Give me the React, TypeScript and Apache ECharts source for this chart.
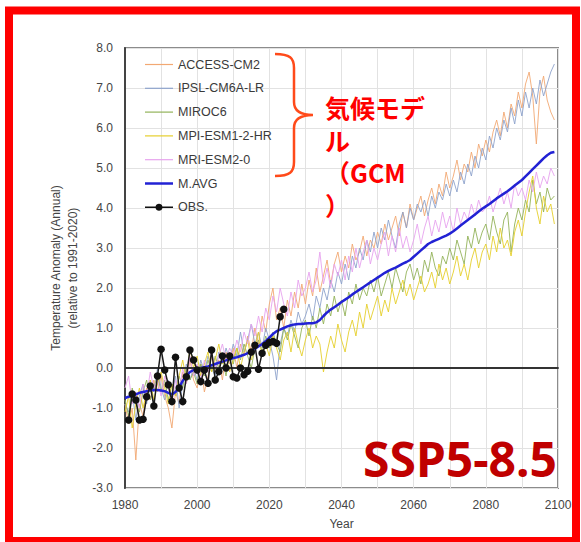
import React, { useEffect, useRef } from "react";
import * as echarts from "echarts";

const MODEL_START = 1980;
const OBS_START = 1981;

const ACCESS_CM2 = [
  -0.9, -1.4, -1.0, -2.3, -0.9, -1.2, -0.5, -0.8, -0.3, -0.6,
  -0.2, -0.7, -1.0, -1.5, -0.6, -0.9, -0.1, -0.4, 0.2, -0.3,
  -0.5, 0.1, -0.6, -0.2, 0.3, -0.1, 0.2, -0.3, 0.4, 0.1,
  0.5, 0.0, 0.6, 0.3, 0.8, 0.4, 1.0, 0.6, 1.3, 0.9,
  1.6, 2.0, 1.2, 1.5, 1.0, 1.7, 1.3, 1.9, 1.5, 2.1,
  1.6, 2.2, 1.8, 2.5, 1.9, 2.3, 2.7, 2.1, 2.6, 2.9,
  2.4, 2.8, 2.5, 3.1, 2.7, 2.9, 3.3, 2.8, 3.2, 3.0,
  3.4, 3.1, 3.6, 3.2, 3.5, 3.8, 3.3, 3.9, 3.5, 4.1,
  3.7, 4.0, 4.3, 3.8, 4.2, 4.5, 4.1, 4.6, 4.3, 4.9,
  4.5, 4.8, 5.2, 4.7, 5.1, 4.9, 5.4, 5.0, 5.6, 5.3,
  5.7, 5.4, 5.9, 6.2, 5.8, 6.4, 6.0, 6.6, 6.3, 6.9,
  6.5, 7.1, 7.4, 6.8, 5.6, 6.9, 7.3, 6.7, 6.4, 6.2,
];

const IPSL_CM6A_LR = [
  -0.9, -1.1, -0.6, -1.3, -0.7, -0.4, -0.9, -0.3, -0.6, 0.0,
  -0.5, -0.8, -0.3, -0.7, -0.2, -1.0, -0.4, 0.1, -0.3, 0.0,
  -0.3, 0.2, -0.1, 0.3, 0.0, -0.2, 0.4, 0.1, 0.5, 0.2,
  0.6, 0.3, 0.9, 0.4, 0.7, 1.1, 0.6, 0.9, 0.5, 1.0,
  0.7, 0.3, -0.3, 0.6, 1.0, 0.8, 1.2, 0.9, 1.4, 1.1,
  1.3, 1.6, 1.2, 1.8, 1.5, 2.0, 1.7, 2.2, 1.9, 2.4,
  2.1, 2.6, 2.2, 2.8, 2.5, 3.0, 2.7, 3.2, 2.9, 3.4,
  3.0, 3.5, 3.2, 3.7, 3.3, 3.0, 3.6, 3.9, 3.5, 4.0,
  3.7, 4.1, 3.9, 4.2, 3.8, 4.3, 4.0, 4.4, 4.2, 4.6,
  4.3, 4.7, 4.4, 4.9, 4.6, 5.1, 4.8, 5.3, 5.0, 5.5,
  5.2, 5.8, 5.5, 6.0, 5.7, 6.2, 5.9, 6.5, 6.1, 6.7,
  6.3, 6.9, 6.5, 7.0, 6.6, 7.2, 6.8, 7.1, 7.4, 7.6,
];

const MIROC6 = [
  -0.8, -1.2, -0.5, -0.9, -1.1, -0.6, -0.3, -0.8, -0.5, -0.2,
  -0.6, -0.3, -0.8, -0.4, -0.7, -0.2, -0.5, 0.0, -0.3, -0.1,
  -0.4, 0.1, -0.2, 0.2, -0.1, 0.3, 0.0, 0.2, -0.2, 0.4,
  0.1, 0.5, 0.2, 0.6, 0.3, 0.0, 0.5, 0.7, 0.4, 0.8,
  0.5, 0.9, 0.6, 0.4, 1.0, 0.7, 1.1, 0.8, 0.5, 1.0,
  1.2, 0.8, 1.3, 1.0, 1.5, 1.1, 1.6, 1.3, 1.8, 1.4,
  1.7, 1.3, 1.9, 1.6, 2.1, 1.7, 2.0, 1.8, 2.2, 1.9,
  2.3, 1.8, 2.1, 2.4, 2.0, 2.5, 2.2, 1.9, 2.4, 2.6,
  2.2, 2.5, 2.1, 2.7, 2.4, 2.9, 2.5, 2.3, 2.8, 2.6,
  3.0, 2.7, 3.2, 2.9, 2.6, 3.3, 3.0, 3.5, 3.1, 3.4,
  3.6, 3.2, 3.8, 3.4, 3.1, 3.7, 3.9, 2.9, 3.6, 4.0,
  3.7, 4.2, 3.9, 4.7, 4.1, 4.4, 3.9, 4.5, 4.2, 4.3,
];

const MPI_ESM1_2_HR = [
  -1.1, -0.7, -1.5, -0.9, -0.5, -1.0, -0.6, -0.3, -0.8, -0.4,
  -0.1, -0.5, -0.9, -0.4, -0.7, -0.2, 0.2, -0.3, 0.5, 0.0,
  0.3, -0.2, 0.1, 0.4, -0.1, 0.2, 0.6, 0.1, 0.3, -0.1,
  0.2, 0.5, 0.0, 0.4, 0.7, 0.2, 0.5, 0.9, 0.3, 0.6,
  0.3, 0.8, 0.5, 0.2, 0.7, 0.9, 0.4, 1.0, 0.6, 0.3,
  0.7, 1.0, 0.5, 0.8, 0.6, -0.1, 0.4, 0.8, 0.5, 1.1,
  0.7, 0.4, 0.9, 1.2, 0.8, 1.4, 1.0, 1.6, 1.2, 1.5,
  1.8, 1.3, 1.7, 1.4, 2.0, 1.6, 1.9, 2.2, 1.8, 2.1,
  1.7, 2.0, 2.3, 1.9, 2.1, 2.4, 2.0, 2.6, 2.2, 2.5,
  2.1, 2.4, 2.8, 2.3, 2.6, 2.2, 2.7, 3.0, 2.5, 2.9,
  3.1, 2.7, 3.3, 2.9, 3.5, 3.0, 3.2, 2.8, 3.4, 3.7,
  3.3, 3.9, 4.4, 4.8, 4.0, 3.6, 4.3, 3.9, 4.1, 3.6,
];

const MRI_ESM2_0 = [
  -0.5, -0.2, -0.9, -0.6, -1.0, -0.4, -0.7, -0.1, -0.5, -0.3,
  -0.7, -0.2, -0.5, -0.9, -0.3, -0.6, 0.0, -0.4, 0.3, -0.2,
  0.1, -0.3, 0.2, -0.1, 0.4, 0.0, 0.3, 0.6, 0.2, 0.5,
  0.3, 0.7, 0.4, 0.9, 0.6, 1.1, 0.8, 1.3, 0.9, 1.5,
  1.2, 1.8, 1.4, 2.0, 1.6, 1.3, 1.9, 1.5, 2.2, 1.8,
  2.0, 2.4, 1.9, 2.2, 2.9, 2.1, 2.5, 2.0, 2.6, 2.3,
  2.7, 2.2, 2.8, 2.4, 3.0, 2.5, 2.9, 3.2, 2.6, 3.0,
  2.7, 3.1, 3.4, 2.8, 3.3, 2.9, 3.5, 3.0, 3.3, 2.9,
  3.2, 3.6, 3.1, 3.5, 3.8, 3.3, 3.7, 3.4, 3.9, 3.5,
  3.8, 3.4, 4.0, 3.6, 3.9, 3.7, 4.1, 3.8, 4.2, 3.9,
  4.0, 4.3, 3.9, 4.2, 4.5, 4.1, 4.4, 4.0, 4.6, 4.3,
  4.5, 4.2, 4.7, 4.4, 4.9, 4.5, 4.8, 4.6, 5.0, 4.8,
];

const M_AVG = [
  -0.75, -0.72, -0.70, -0.66, -0.62, -0.60, -0.58, -0.56, -0.55, -0.55,
  -0.56, -0.58, -0.62, -0.66, -0.60, -0.48, -0.32, -0.20, -0.10, -0.05,
  -0.02, 0.00, 0.02, 0.04, 0.07, 0.10, 0.13, 0.16, 0.19, 0.22,
  0.25, 0.27, 0.30, 0.33, 0.37, 0.42, 0.48, 0.54, 0.60, 0.67,
  0.76, 0.85, 0.92, 0.96, 1.00, 1.04, 1.07, 1.09, 1.10, 1.10,
  1.11, 1.12, 1.12, 1.14, 1.20, 1.30, 1.39, 1.46, 1.52, 1.58,
  1.65, 1.71, 1.77, 1.84, 1.90, 1.96, 2.02, 2.08, 2.14, 2.20,
  2.26, 2.32, 2.38, 2.43, 2.47, 2.51, 2.56, 2.61, 2.65, 2.70,
  2.78, 2.86, 2.94, 3.02, 3.10, 3.15, 3.19, 3.23, 3.27, 3.31,
  3.36, 3.42, 3.49, 3.56, 3.63, 3.70, 3.77, 3.84, 3.91, 3.98,
  4.04, 4.10, 4.17, 4.24, 4.30, 4.36, 4.42, 4.49, 4.56, 4.63,
  4.70, 4.79, 4.88, 4.97, 5.06, 5.15, 5.24, 5.32, 5.38, 5.40,
];

const OBS = [
  -1.30, -0.65, -0.80, -1.30, -1.28, -0.72, -0.45, -0.95, -0.20, 0.47,
  -0.05, -0.42, -0.84, 0.27, -0.50, -0.84, -0.22, 0.45, 0.20, -0.05,
  -0.34, -0.05, -0.38, 0.45, -0.30, -0.09, 0.30, 0.00, 0.30, -0.22,
  -0.25, 0.00, -0.17, -0.08, 0.40, 0.57, -0.03, 0.37, 0.57, 0.64,
  0.66, 0.62, 1.28, 1.47,
];

const X_TICKS = [1980, 2000, 2020, 2040, 2060, 2080, 2100];
const Y_TICKS = [-3, -2, -1, 0, 1, 2, 3, 4, 5, 6, 7, 8];

const MODEL_NAMES = ["ACCESS-CM2", "IPSL-CM6A-LR", "MIROC6", "MPI-ESM1-2-HR", "MRI-ESM2-0"];
const MODEL_DATA = [ACCESS_CM2, IPSL_CM6A_LR, MIROC6, MPI_ESM1_2_HR, MRI_ESM2_0];
const MODEL_COLORS = ["#f2a873", "#8ea3cc", "#93b35a", "#e6cf2c", "#e7a3ee"];

const GCM_LABEL = "気候モデ\nル\n（GCM\n）";
const SCENARIO_LABEL = "SSP5-8.5";

const toPairs = (arr: number[], start: number) => arr.map((v, i) => [start + i, v]);

const BRACE_D =
  "M275,54 C290,54 294,58 294,68 L294,102 C294,110 300,115 313,115 C300,115 294,120 294,128 L294,162 C294,172 290,176 275,176";

const THIN_LINE_ICON = "path://M0,0 L28,0 L28,1.2 L0,1.2 Z";
const THICK_LINE_ICON = "path://M0,0 L28,0 L28,2.5 L0,2.5 Z";
const OBS_ICON =
  "path://M0,3.25 L10.58,3.25 A3.5,3.5 0 0 1 17.42,3.25 L28,3.25 L28,4.75 L17.42,4.75 A3.5,3.5 0 0 1 10.58,4.75 L0,4.75 Z";

let braceRegistered = false;

export default function App() {
  const ref = useRef<HTMLDivElement>(null);
  useEffect(() => {
    document.body.style.margin = "0";
    if (!braceRegistered) {
      echarts.graphic.registerShape("brace", echarts.graphic.extendPath(BRACE_D, {}) as any);
      braceRegistered = true;
    }
    const chart = echarts.init(ref.current!, null, { renderer: "svg" });
    const font = "'Liberation Sans', Arial, sans-serif";
    const modelSeries = MODEL_NAMES.map((name, i) => ({
      name,
      type: "line",
      data: toPairs(MODEL_DATA[i], MODEL_START),
      symbol: "none",
      showSymbol: false,
      lineStyle: { color: MODEL_COLORS[i], width: 1, opacity: 0.9 },
      itemStyle: { color: MODEL_COLORS[i] },
      z: 2,
    }));
    const option: any = {
      animation: false,
      backgroundColor: "#ffffff",
      textStyle: { fontFamily: font },
      grid: {
        left: 125,
        right: 23,
        top: 48,
        bottom: 54,
        show: true,
        borderColor: "#8c8c8c",
        borderWidth: 2,
        backgroundColor: "transparent",
      },
      legend: {
        orient: "vertical",
        left: 140,
        top: 53,
        itemWidth: 28,
        itemHeight: 14,
        itemGap: 10.8,
        textStyle: { fontSize: 12.5, color: "#3a3a3a", fontFamily: font },
        data: [
          ...MODEL_NAMES.map((n) => ({ name: n, icon: THIN_LINE_ICON })),
          { name: "M.AVG", icon: THICK_LINE_ICON },
          { name: "OBS.", icon: OBS_ICON },
        ],
      },
      xAxis: {
        type: "value",
        min: X_TICKS[0],
        max: X_TICKS[X_TICKS.length - 1],
        interval: X_TICKS[1] - X_TICKS[0],
        name: "Year",
        nameLocation: "middle",
        nameGap: 30,
        nameTextStyle: { fontSize: 12, color: "#444", fontFamily: font },
        axisLine: { show: true, lineStyle: { color: "#444", width: 2 } },
        axisTick: { show: false },
        axisLabel: {
          fontSize: 12,
          color: "#444",
          margin: 11,
          fontFamily: font,
          formatter: (v: number) => String(v),
        },
        splitLine: { show: true, lineStyle: { color: "#e2e2e2", width: 1 } },
        minorTick: { show: false, splitNumber: 2 },
        minorSplitLine: { show: true, lineStyle: { color: "#e2e2e2", width: 1 } },
      },
      yAxis: {
        type: "value",
        min: Y_TICKS[0],
        max: Y_TICKS[Y_TICKS.length - 1],
        interval: 1,
        name: "Temperature Anomaly (Annual)\n(relative to 1991-2020)",
        nameLocation: "middle",
        nameGap: 37,
        nameTextStyle: { fontSize: 12, color: "#444", lineHeight: 17, fontFamily: font },
        axisLine: { show: true, lineStyle: { color: "#444", width: 2 } },
        axisTick: { show: false },
        axisLabel: {
          fontSize: 12,
          color: "#444",
          margin: 12,
          fontFamily: font,
          formatter: (v: number) => v.toFixed(1),
        },
        splitLine: { show: true, lineStyle: { color: "#e2e2e2", width: 1 } },
      },
      series: [
        ...modelSeries,
        {
          name: "M.AVG",
          type: "line",
          data: toPairs(M_AVG, MODEL_START),
          symbol: "none",
          showSymbol: false,
          lineStyle: { color: "#2222d4", width: 2.5 },
          itemStyle: { color: "#2222d4" },
          z: 4,
        },
        {
          name: "OBS.",
          type: "line",
          data: toPairs(OBS, OBS_START),
          symbol: "circle",
          symbolSize: 7.5,
          lineStyle: { color: "#1a1a1a", width: 1.5 },
          itemStyle: { color: "#111111" },
          z: 5,
          markLine: {
            silent: true,
            symbol: ["none", "none"],
            label: { show: false },
            lineStyle: { color: "#333", width: 2, type: "solid" },
            data: [{ yAxis: 0 }],
          },
        },
      ],
      graphic: [
        {
          type: "rect",
          shape: { x: 9, y: 10.5, width: 567, height: 530.5 },
          style: { fill: "none", stroke: "#ff0000", lineWidth: 8 },
          z: 100,
        },
        {
          type: "brace",
          x: 0,
          y: 0,
          shape: {},
          style: { fill: "none", stroke: "#ff4a1a", lineWidth: 2.5 },
          z: 100,
        },
        {
          type: "text",
          x: 325,
          y: 90.5,
          style: {
            text: GCM_LABEL,
            fill: "#ff0000",
            font: "bold 25px 'Noto Sans CJK JP', sans-serif",
            lineHeight: 32.7,
            textAlign: "left",
            textVerticalAlign: "top",
          },
          z: 100,
        },
        {
          type: "text",
          x: 557,
          y: 458,
          style: {
            text: SCENARIO_LABEL,
            fill: "#c00000",
            font: "bold 48px 'Noto Sans', sans-serif",
            textAlign: "right",
            textVerticalAlign: "middle",
          },
          z: 100,
        },
      ],
    };
    chart.setOption(option);
    return () => chart.dispose();
  }, []);
  return <div ref={ref} style={{ width: 581, height: 542 }} />;
}
